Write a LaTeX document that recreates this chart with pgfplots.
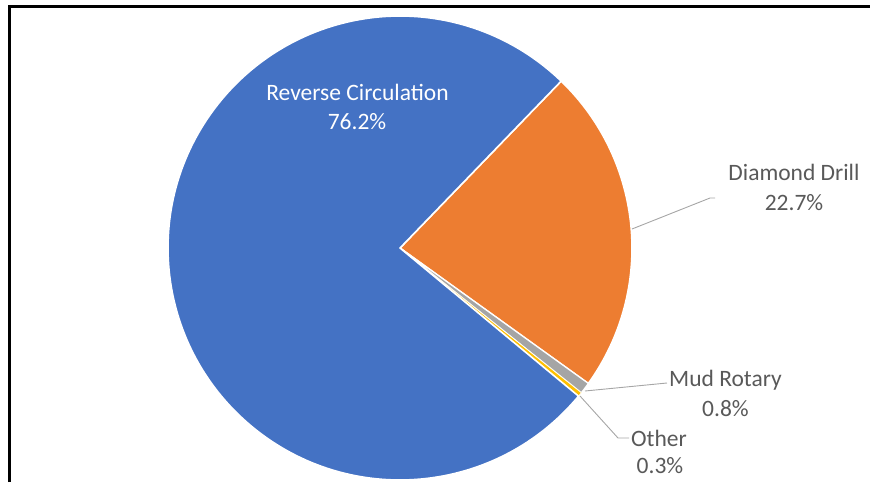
\documentclass[border=0pt]{standalone}
\usepackage{pgfplots}
\pgfplotsset{compat=1.18}
\usepackage{fontspec}
\setmainfont{Carlito}
\definecolor{cBlue}{HTML}{4472C4}
\definecolor{cOrange}{HTML}{ED7D31}
\definecolor{cGray}{HTML}{A5A5A5}
\definecolor{cYellow}{HTML}{FFC000}
\definecolor{cText}{HTML}{595959}
\definecolor{cLeader}{HTML}{A6A6A6}
\newcommand\lbl{\fontsize{23.5}{26}\selectfont}
\begin{document}
\begin{tikzpicture}
% data (percent)
\def\vDD{22.7}\def\vMR{0.8}\def\vOT{0.3}\def\vRC{76.2}
\def\rad{232pt}
\pgfmathsetmacro\aA{46}
\pgfmathsetmacro\aB{\aA-\vDD*3.6}
\pgfmathsetmacro\aC{\aB-\vMR*3.6}
\pgfmathsetmacro\aD{\aC-\vOT*3.6}
\pgfmathsetmacro\aE{\aD-\vRC*3.6}
\begin{axis}[
  at={(0,0)}, anchor=south west,
  width=870pt, height=482pt, scale only axis,
  xmin=0, xmax=870, ymin=0, ymax=482, y dir=reverse,
  hide axis, clip=false
]
% slices
\filldraw[fill=cOrange, draw=white, line width=1.6pt, line join=round]
  (axis cs:400,248) -- ++(\aA:\rad) arc[start angle=\aA, end angle=\aB, radius=\rad] -- cycle;
\filldraw[fill=cGray, draw=white, line width=1.2pt, line join=round]
  (axis cs:400,248) -- ++(\aB:\rad) arc[start angle=\aB, end angle=\aC, radius=\rad] -- cycle;
\filldraw[fill=cYellow, draw=white, line width=0.6pt, line join=round]
  (axis cs:400,248) -- ++(\aC:\rad) arc[start angle=\aC, end angle=\aD, radius=\rad] -- cycle;
\filldraw[fill=cBlue, draw=white, line width=1.6pt, line join=round]
  (axis cs:400,248) -- ++(\aD:\rad) arc[start angle=\aD, end angle=\aE, radius=\rad] -- cycle;
% leader lines
\draw[cLeader, line width=0.9pt] (axis cs:632,229) -- (axis cs:710,198) -- (axis cs:715,198);
\draw[cLeader, line width=0.9pt] (axis cs:585,391) -- (axis cs:667,383);
\draw[cLeader, line width=0.9pt] (axis cs:580,396) -- (axis cs:618,438) -- (axis cs:629,438);
% labels
\node[anchor=base, text=white, inner sep=0pt] at (axis cs:357.5,100) {\lbl Reverse Circulation};
\node[anchor=base, text=white, inner sep=0pt] at (axis cs:357,129) {\lbl 76.2\%};
\node[anchor=base, text=cText, inner sep=0pt] at (axis cs:794,180) {\lbl Diamond Drill};
\node[anchor=base, text=cText, inner sep=0pt] at (axis cs:794,210) {\lbl 22.7\%};
\node[anchor=base, text=cText, inner sep=0pt] at (axis cs:725.5,386) {\lbl Mud Rotary};
\node[anchor=base, text=cText, inner sep=0pt] at (axis cs:725.5,416) {\lbl 0.8\%};
\node[anchor=base, text=cText, inner sep=0pt] at (axis cs:659,446) {\lbl Other};
\node[anchor=base, text=cText, inner sep=0pt] at (axis cs:660,473) {\lbl 0.3\%};
% frame
\draw[black, line width=2.8pt] (axis cs:9.5,482) -- (axis cs:9.5,6.5) -- (axis cs:870,6.5);
\end{axis}
\pgfresetboundingbox
\path[use as bounding box] (0,0) rectangle (870pt,482pt);
\end{tikzpicture}
\end{document}
